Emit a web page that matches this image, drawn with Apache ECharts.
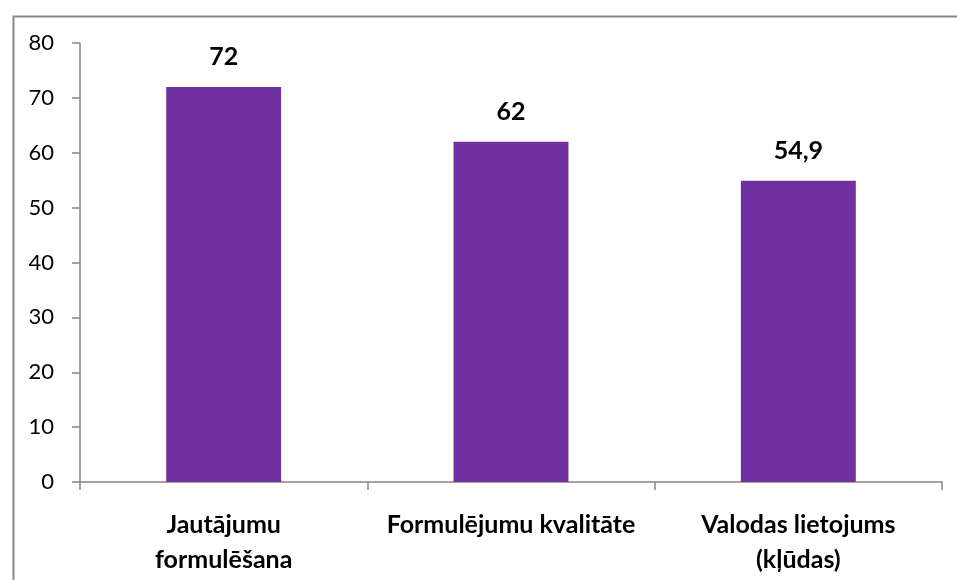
<!DOCTYPE html>
<html>
<head>
<meta charset="utf-8">
<script src="https://cdn.jsdelivr.net/npm/echarts@6/dist/echarts.min.js"></script>
<style>
  html, body { margin: 0; padding: 0; background: #fff; }
  #chart { width: 957px; height: 580px; }
</style>
</head>
<body>
<div id="chart"></div>
<script>
const categories = ['Jautājumu\nformulēšana', 'Formulējumu kvalitāte', 'Valodas lietojums\n(kļūdas)'];
const values = [72, 62, 54.9];

const axisGray = '#868686';
const chart = echarts.init(document.getElementById('chart'), null, { renderer: 'canvas' });

chart.setOption({
    animation: false,
    textStyle: { fontFamily: 'Lato, "Open Sans", sans-serif' },
    graphic: [{
        type: 'rect',
        left: 11, top: 14,
        shape: { width: 980, height: 620 },
        style: { fill: 'none', stroke: '#888', lineWidth: 2 },
        z: -1
    }],
    grid: { left: 80, right: 15, top: 43, bottom: 98 },
    xAxis: {
        type: 'category',
        data: categories,
        axisLine: { lineStyle: { color: axisGray, width: 1.5 } },
        axisTick: { show: true, alignWithLabel: false, length: 8, lineStyle: { color: axisGray, width: 1.5 } },
        axisLabel: {
            interval: 0,
            margin: 25,
            color: '#000',
            fontSize: 25,
            fontWeight: 'bold',
            lineHeight: 35
        }
    },
    yAxis: {
        type: 'value',
        min: 0, max: 80, interval: 10,
        axisLine: { show: true, lineStyle: { color: axisGray, width: 1.5 } },
        axisTick: { show: true, length: 8, lineStyle: { color: axisGray, width: 1.5 } },
        splitLine: { show: false },
        axisLabel: { color: '#000', fontSize: 22, margin: 26 }
    },
    series: [{
        type: 'bar',
        data: values,
        barWidth: '40%',
        itemStyle: { color: '#7030A0' },
        label: {
            show: true,
            position: 'top',
            distance: 17,
            color: '#000',
            fontSize: 25,
            fontWeight: 'bold',
            formatter: p => String(p.value).replace('.', ',')
        }
    }]
});
</script>
</body>
</html>
